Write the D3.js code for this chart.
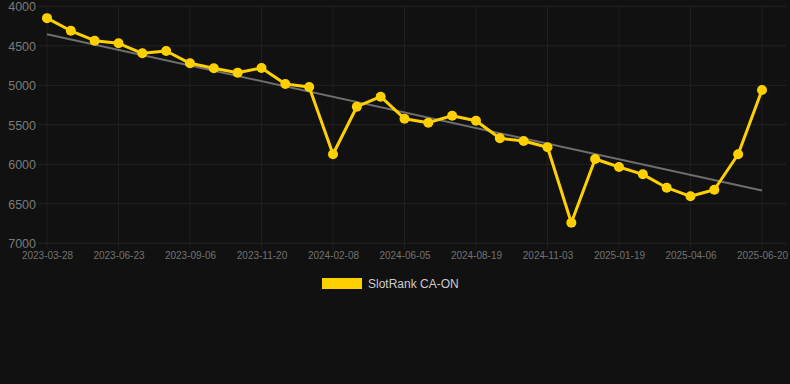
<!DOCTYPE html>
<html>
<head>
<meta charset="utf-8">
<script src="https://cdn.jsdelivr.net/npm/d3@7/dist/d3.min.js"></script>
<style>
  html, body { margin: 0; padding: 0; background: #111111; }
  svg { display: block; font-family: "Liberation Sans", Arial, Helvetica, sans-serif; }
</style>
</head>
<body>
<svg id="chart" width="790" height="384"></svg>
<script>
const categories = [
  "2023-03-28","2023-04-26","2023-05-25","2023-06-23","2023-07-18","2023-08-12",
  "2023-09-06","2023-10-01","2023-10-26","2023-11-20","2023-12-17","2024-01-12",
  "2024-02-08","2024-03-18","2024-04-26","2024-06-05","2024-06-30","2024-07-25",
  "2024-08-19","2024-09-13","2024-10-08","2024-11-03","2024-11-28","2024-12-24",
  "2025-01-19","2025-02-13","2025-03-11","2025-04-06","2025-05-01","2025-05-26",
  "2025-06-20"
];
const rankValues = [
  4150, 4310, 4435, 4468, 4595, 4566, 4722, 4785, 4840, 4781, 4984, 5022,
  5873, 5271, 5144, 5423, 5473, 5385, 5448, 5671, 5705, 5785, 6739, 5933,
  6034, 6127, 6296, 6405, 6322, 5873, 5059
];
const yTicks = [4000, 4500, 5000, 5500, 6000, 6500, 7000];
const xTickLabels = categories.filter((d, i) => i % 3 === 0);
const seriesName = "SlotRank CA-ON";

const svg = d3.select("#chart");
const plot = { left: 38, right: 786, top: 6.3, bottom: 243.3 };

const x = d3.scalePoint().domain(categories).range([47, 762]);
const y = d3.scaleLinear().domain([4000, 7000]).range([plot.top, plot.bottom]);

// grid
const grid = svg.append("g");
grid.selectAll("line.h").data(yTicks).join("line")
  .attr("x1", plot.left).attr("x2", plot.right)
  .attr("y1", d => y(d)).attr("y2", d => y(d))
  .attr("stroke", "#232323").attr("stroke-width", 1);
grid.selectAll("line.v").data(xTickLabels).join("line")
  .attr("x1", d => x(d)).attr("x2", d => x(d))
  .attr("y1", plot.top).attr("y2", plot.bottom + 6)
  .attr("stroke", "#1f1f1f").attr("stroke-width", 1);

// y axis labels
const yAxis = d3.axisLeft(y).tickValues(yTicks).tickSize(0).tickPadding(0).tickFormat(d3.format("d"));
const yg = svg.append("g").attr("transform", "translate(36,0)").call(yAxis);
yg.select(".domain").remove();
yg.selectAll("text").attr("fill", "#7a7a7a").style("font-size", "12.5px")
  .attr("dy", "0.35em");

// x axis labels
const xAxis = d3.axisBottom(x).tickValues(xTickLabels).tickSize(0).tickPadding(0);
const xg = svg.append("g").attr("transform", "translate(0,255)").call(xAxis);
xg.select(".domain").remove();
xg.selectAll("text").attr("fill", "#727272").style("font-size", "10px").attr("dy", "0.35em");

// trend line (least squares)
const n = rankValues.length;
const mx = d3.mean(rankValues, (d, i) => i);
const my = d3.mean(rankValues);
const slope = d3.sum(rankValues, (d, i) => (i - mx) * (d - my)) / d3.sum(rankValues, (d, i) => (i - mx) * (i - mx));
const icpt = my - slope * mx;
svg.append("line")
  .attr("x1", x(categories[0])).attr("y1", y(icpt))
  .attr("x2", x(categories[n - 1])).attr("y2", y(icpt + slope * (n - 1)))
  .attr("stroke", "#6e6e6e").attr("stroke-width", 2);

// series line
const line = d3.line().x((d, i) => x(categories[i])).y(d => y(d));
svg.append("path").datum(rankValues)
  .attr("d", line).attr("fill", "none")
  .attr("stroke", "#ffd000").attr("stroke-width", 3).attr("stroke-linejoin", "round");

svg.append("g").selectAll("circle").data(rankValues).join("circle")
  .attr("cx", (d, i) => x(categories[i])).attr("cy", d => y(d))
  .attr("r", 5).attr("fill", "#ffd000");

// legend
const lg = svg.append("g");
lg.append("rect").attr("x", 322).attr("y", 278).attr("width", 40).attr("height", 11).attr("fill", "#ffd000");
lg.append("text").attr("x", 368).attr("y", 284).attr("dy", "0.35em")
  .attr("fill", "#cccccc").style("font-size", "12px").text(seriesName);
</script>
</body>
</html>
